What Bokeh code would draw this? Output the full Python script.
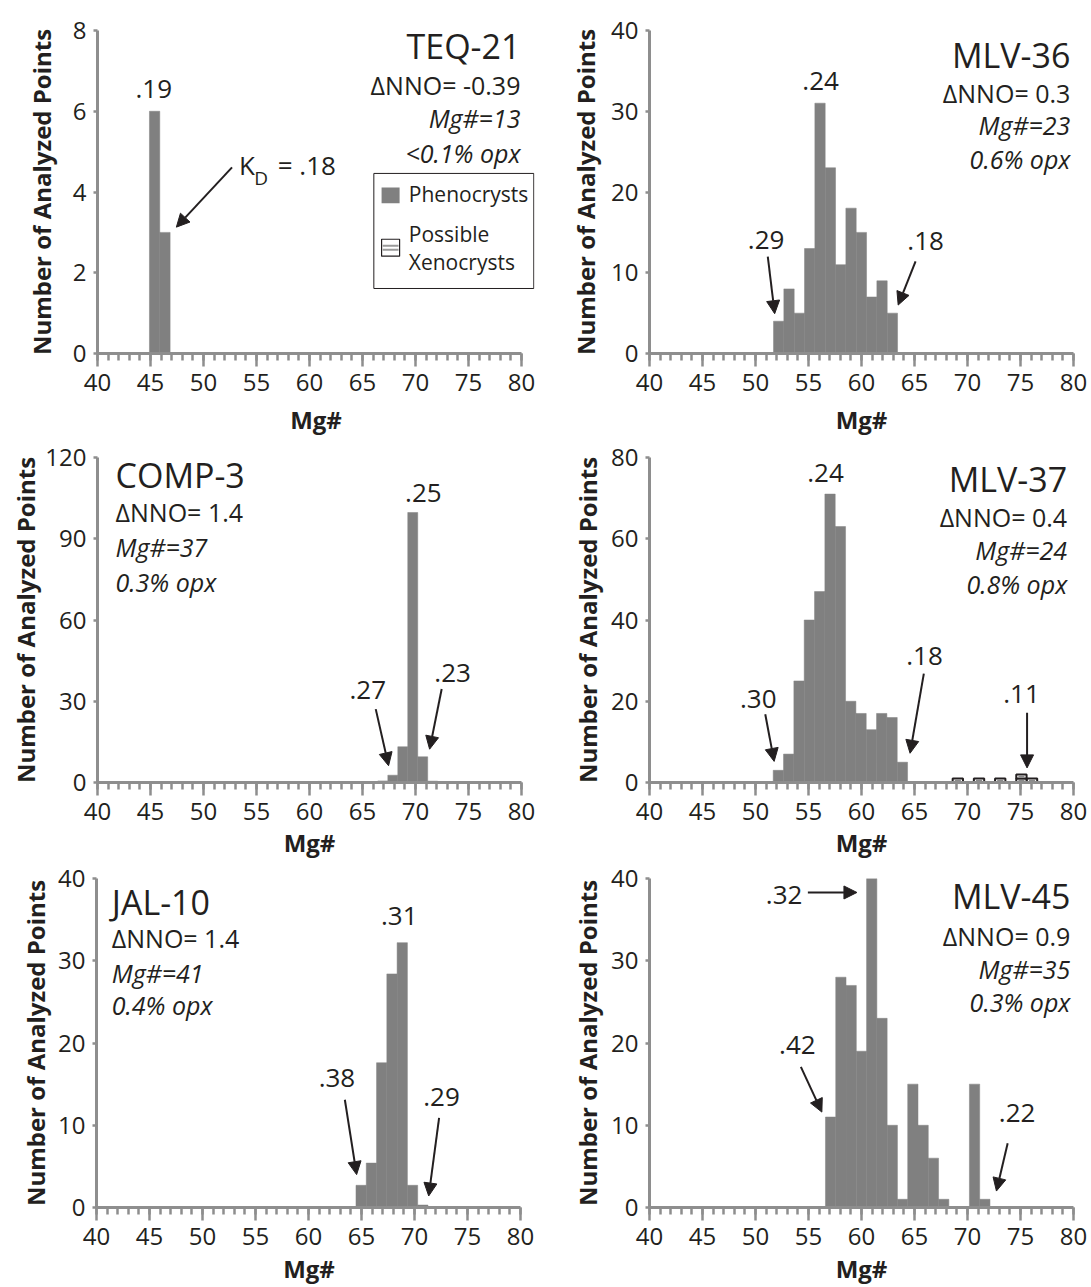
import math
from bokeh.plotting import figure
from bokeh.models import Range1d, Label, Arrow, NormalHead, SingleIntervalTicker, FixedTicker
from bokeh.layouts import row, column
from bokeh.embed import file_html
from bokeh.resources import INLINE

# ---------------- data ----------------
teq21_start = 44.9
teq21_counts = [6, 3]
mlv36_start = 51.7
mlv36_counts = [4, 8, 5, 13, 31, 23, 11, 18, 15, 7, 9, 5]
comp3_start = 66.45
comp3_counts = [0.6, 2.7, 13.2, 99.7, 9.5, 0.5]
mlv37_start = 51.67
mlv37_counts = [3, 7, 25, 40, 47, 71, 63, 20, 17, 13, 17, 16, 5]
mlv37_xeno_left = [68.6, 70.6, 72.6, 74.6, 75.6]
mlv37_xeno_counts = [1, 1, 1, 2, 1]
jal10_start = 64.48
jal10_counts = [2.7, 5.4, 17.6, 28.4, 32.2, 2.7, 0.3]
mlv45_start = 56.6
mlv45_counts = [11, 28, 27, 19, 40, 23, 10, 1, 15, 10, 6, 1, 0, 0, 15, 1]

sample_names = ["TEQ-21", "MLV-36", "COMP-3", "MLV-37", "JAL-10", "MLV-45"]
dnno_labels = ["ΔNNO= -0.39", "ΔNNO= 0.3", "ΔNNO= 1.4", "ΔNNO= 0.4", "ΔNNO= 1.4", "ΔNNO= 0.9"]
mg_labels = ["Mg#=13", "Mg#=23", "Mg#=37", "Mg#=24", "Mg#=41", "Mg#=35"]
opx_labels = ["<0.1% opx", "0.6% opx", "0.3% opx", "0.8% opx", "0.4% opx", "0.3% opx"]
y_max = [8, 40, 120, 80, 40, 40]
y_ticks = [[0, 2, 4, 6, 8], [0, 10, 20, 30, 40], [0, 30, 60, 90, 120],
           [0, 20, 40, 60, 80], [0, 10, 20, 30, 40], [0, 10, 20, 30, 40]]
x_label = "Mg#"
y_label = "Number of Analyzed Points"

TXT = "#231f20"
BAR = "#808080"
AX = "#8e8e8e"
FONT = "Open Sans"
PPX = 10.6  # pixels per Mg# unit
BASE_K = 0.42  # baseline correction (fraction of font size)


def make_panel(width, height, left, top, bottom, right, ymax, yticks, ylab_standoff, xlab_standoff):
    x_end = 40 + (width - left - right) / PPX
    p = figure(width=width, height=height, output_backend="svg", toolbar_location=None,
               x_range=Range1d(40, x_end), y_range=Range1d(0, ymax),
               min_border_left=left, min_border_right=right,
               min_border_top=top, min_border_bottom=bottom)
    p.outline_line_color = None
    p.xgrid.visible = False
    p.ygrid.visible = False
    xa = p.xaxis[0]
    xa.bounds = (40, 80)
    xa.ticker = SingleIntervalTicker(interval=5, num_minor_ticks=5)
    xa.axis_line_color = AX
    xa.axis_line_width = 3
    xa.major_tick_line_color = AX
    xa.major_tick_line_width = 2.5
    xa.major_tick_out = 13
    xa.major_tick_in = 0
    xa.minor_tick_line_color = AX
    xa.minor_tick_line_width = 2.5
    xa.minor_tick_out = 7
    xa.minor_tick_in = 0
    xa.major_label_text_font = FONT
    xa.major_label_text_font_size = "24px"
    xa.major_label_text_color = TXT
    xa.major_label_standoff = 7
    xa.axis_label = x_label
    xa.axis_label_text_font = FONT
    xa.axis_label_text_font_size = "24px"
    xa.axis_label_text_font_style = "bold"
    xa.axis_label_text_color = TXT
    xa.axis_label_standoff = xlab_standoff
    ya = p.yaxis[0]
    ya.bounds = (0, ymax)
    ya.ticker = FixedTicker(ticks=yticks, minor_ticks=[])
    ya.axis_line_color = AX
    ya.axis_line_width = 3
    ya.major_tick_line_color = AX
    ya.major_tick_line_width = 2.5
    ya.major_tick_out = 4
    ya.major_tick_in = 0
    ya.minor_tick_line_color = None
    ya.major_label_text_font = FONT
    ya.major_label_text_font_size = "24px"
    ya.major_label_text_color = TXT
    ya.major_label_standoff = 7
    ya.axis_label = y_label
    ya.axis_label_text_font = FONT
    ya.axis_label_text_font_size = "24px"
    ya.axis_label_text_font_style = "bold"
    ya.axis_label_text_color = TXT
    ya.axis_label_standoff = ylab_standoff
    frame_h = height - top - bottom
    p._ppy = frame_h / ymax
    return p


def lab(p, text, x, y, size, align="left", style="normal"):
    yc = y + BASE_K * size / p._ppy
    p.add_layout(Label(x=x, y=yc, text=text, text_font=FONT, text_font_size=f"{size}px",
                       text_align=align, text_baseline="alphabetic", text_color=TXT,
                       text_font_style=style))


def arrow(p, x0, y0, x1, y1):
    p.add_layout(Arrow(end=NormalHead(size=13, fill_color=TXT, line_color=TXT, line_width=1),
                       x_start=x0, y_start=y0, x_end=x1, y_end=y1,
                       line_color=TXT, line_width=2))


def bars(p, start, counts, w):
    lefts = [start + i * w for i in range(len(counts))]
    rights = [l + w for l in lefts]
    p.quad(left=lefts, right=rights, bottom=0, top=counts,
           fill_color=BAR, line_color=BAR, line_width=0.5)


def stats(p, i, x, ys, align):
    lab(p, sample_names[i], x, ys[0], 34, align=align)
    lab(p, dnno_labels[i], x, ys[1], 25, align=align)
    lab(p, mg_labels[i], x, ys[2], 25, align=align, style="italic")
    lab(p, opx_labels[i], x, ys[3], 25, align=align, style="italic")


# ---------- Panel 1: TEQ-21 ----------
p1 = make_panel(545, 438, 97, 30, 85, 11, y_max[0], y_ticks[0], 12, 9)
bars(p1, teq21_start, teq21_counts, 0.975)
stats(p1, 0, 79.9, [7.26, 6.39, 5.57, 4.70], "right")
lab(p1, ".19", 45.31, 6.27, 26, align="center")
lab(p1, "K", 53.36, 4.41, 26)
lab(p1, "D", 54.78, 4.16, 19)
lab(p1, "= .18", 57.0, 4.41, 26)
arrow(p1, 52.69, 4.61, 47.44, 3.13)
# legend
p1.quad(left=[66.07], right=[81.16], bottom=[1.61], top=[4.46],
        fill_color="white", line_color=TXT, line_width=1)
p1.quad(left=[66.8], right=[68.5], bottom=[3.72], top=[4.11], fill_color=BAR, line_color=None)
p1.quad(left=[66.8], right=[68.5], bottom=[2.41], top=[2.83], fill_color="white",
        line_color=TXT, line_width=1.2)
p1.segment(x0=[66.9, 66.9], y0=[2.57, 2.67], x1=[68.4, 68.4], y1=[2.57, 2.67],
           line_color="#9a9a9a", line_width=2)
lab(p1, "Phenocrysts", 69.37, 3.74, 21)
lab(p1, "Possible", 69.37, 2.75, 21)
lab(p1, "Xenocrysts", 69.37, 2.06, 21)

# ---------- Panel 2: MLV-36 ----------
p2 = make_panel(546, 438, 104, 20, 85, 18, y_max[1], y_ticks[1], 6, 9)
bars(p2, mlv36_start, mlv36_counts, 0.975)
stats(p2, 1, 79.7, [35.2, 31.0, 27.0, 22.8], "right")
lab(p2, ".24", 56.14, 32.4, 26, align="center")
lab(p2, ".29", 51.0, 12.7, 26, align="center")
lab(p2, ".18", 66.05, 12.6, 26, align="center")
arrow(p2, 51.16, 12.0, 51.81, 4.93)
arrow(p2, 65.1, 11.4, 63.46, 6.0)

# ---------- Panel 3: COMP-3 ----------
p3 = make_panel(545, 424, 97, 19, 80, 24, y_max[2], y_ticks[2], 0, 3)
bars(p3, comp3_start, comp3_counts, 0.94)
stats(p3, 2, 41.7, [108.3, 96.0, 83.1, 70.2], "left")
lab(p3, ".25", 70.74, 102.8, 26, align="center")
lab(p3, ".27", 65.5, 30.2, 26, align="center")
lab(p3, ".23", 73.5, 36.3, 26, align="center")
arrow(p3, 66.25, 27.1, 67.46, 6.2)
arrow(p3, 72.47, 34.5, 71.33, 12.3)

# ---------- Panel 4: MLV-37 ----------
p4 = make_panel(546, 424, 104, 10, 80, 18, y_max[3], y_ticks[3], 4, 3)
bars(p4, mlv37_start, mlv37_counts, 0.975)
xl, xr, xb, xt = [], [], [], []
for left, n in zip(mlv37_xeno_left, mlv37_xeno_counts):
    for k in range(n):
        xl.append(left)
        xr.append(left + 0.975)
        xb.append(k)
        xt.append(k + 1)
p4.quad(left=xl, right=xr, bottom=xb, top=xt, fill_color="white", line_color=TXT, line_width=2)
p4.segment(x0=[l + 0.2 for l in xl], x1=[r - 0.2 for r in xr],
           y0=[b + 0.5 for b in xb], y1=[b + 0.5 for b in xb], line_color="#8a8a8a", line_width=1.5)
stats(p4, 3, 79.4, [71.2, 62.8, 54.8, 46.4], "right")
lab(p4, ".24", 56.6, 73.6, 26, align="center")
lab(p4, ".30", 50.26, 18.0, 26, align="center")
lab(p4, ".18", 65.95, 28.4, 26, align="center")
lab(p4, ".11", 75.1, 19.2, 26, align="center")
arrow(p4, 50.92, 16.8, 51.76, 5.2)
arrow(p4, 65.88, 26.8, 64.58, 7.2)
arrow(p4, 75.62, 17.2, 75.62, 3.6)

# ---------- Panel 5: JAL-10 ----------
p5 = make_panel(545, 425, 96, 11, 77, 24, y_max[4], y_ticks[4], 3, 4)
bars(p5, jal10_start, jal10_counts, 0.97)
stats(p5, 4, 41.44, [35.4, 31.5, 27.3, 23.4], "left")
lab(p5, ".31", 68.56, 34.1, 26, align="center")
lab(p5, ".38", 62.68, 14.5, 26, align="center")
lab(p5, ".29", 72.55, 12.1, 26, align="center")
arrow(p5, 63.43, 13.1, 64.54, 4.0)
arrow(p5, 72.32, 10.9, 71.34, 1.4)

# ---------- Panel 6: MLV-45 ----------
p6 = make_panel(546, 425, 104, 16, 77, 18, y_max[5], y_ticks[5], 4, 4)
bars(p6, mlv45_start, mlv45_counts, 0.97)
stats(p6, 5, 79.7, [36.1, 31.8, 27.7, 23.7], "right")
lab(p6, ".32", 52.7, 36.7, 26, align="center")
lab(p6, ".42", 53.95, 18.5, 26, align="center")
lab(p6, ".22", 74.68, 10.2, 26, align="center")
arrow(p6, 54.94, 38.3, 59.57, 38.3)
arrow(p6, 54.28, 17.1, 56.26, 11.6)
arrow(p6, 73.79, 7.8, 72.73, 2.0)

layout = column(row(p1, p2), row(p3, p4), row(p5, p6))
open("out.html", "w").write(file_html(layout, INLINE))
